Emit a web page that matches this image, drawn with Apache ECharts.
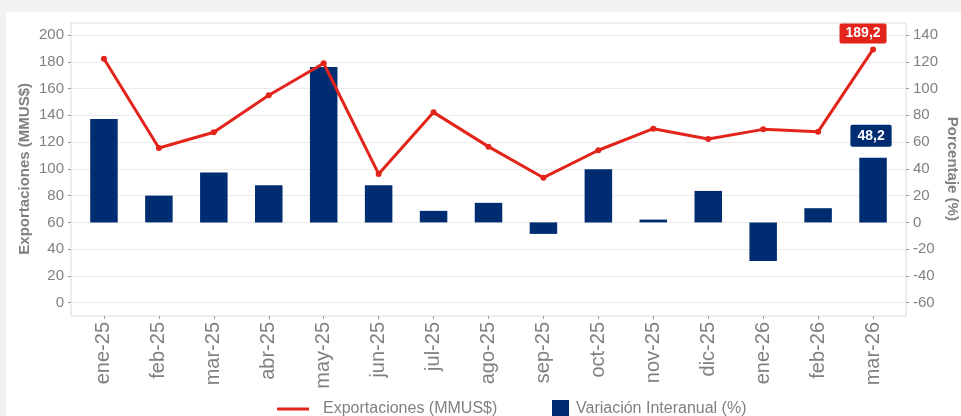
<!DOCTYPE html>
<html style="height: 100%;margin: 0;padding: 0;">
<head>
<meta charset="utf-8">
<title>Exportaciones</title>
<script src="https://cdn.jsdelivr.net/npm/echarts@6/dist/echarts.min.js"></script>
<style>
  body { margin: 0; background: #f2f2f2; }
  #card { position: absolute; left: 6px; top: 12px; right: 0; bottom: 0; background: #ffffff; }
  #main { position: absolute; left: 0; top: 0; width: 961px; height: 416px; }
</style>
</head>
<body>
<div id="card"></div>
<div id="main"></div>
<script type="text/javascript">
// meses
var meses = ['ene-25', 'feb-25', 'mar-25', 'abr-25', 'may-25', 'jun-25', 'jul-25', 'ago-25',
             'sep-25', 'oct-25', 'nov-25', 'dic-25', 'ene-26', 'feb-26', 'mar-26'];
// exportaciones en MMUS$ (eje izquierdo)
var exportaciones = [182.3, 115.6, 127.3, 155.0, 178.9, 96.2, 142.2, 116.6,
                     93.4, 113.9, 130.0, 122.3, 129.5, 127.8, 189.2];
// variacion interanual en % (eje derecho)
var variacion = [77.3, 20.0, 37.2, 27.8, 116.0, 27.8, 8.6, 14.6,
                 -8.6, 39.7, 2.1, 23.5, -28.8, 10.6, 48.2];

var rojo = '#e3241b';
var azul = '#002d72';
var gris = '#808080';

function coma(v) { return v.toFixed(1).replace('.', ','); }

var ultimo = meses.length - 1;
var posiciones = meses.map(function (m, i) { return i; });
var lineData = exportaciones.map(function (v, i) {
  var d = { value: [i, v] };
  if (i == ultimo) {
    d.label = {
      show: true, position: 'top', distance: 3, offset: [-10, 0],
      formatter: function (p) { return coma(p.value[1]); },
      color: '#fff', fontWeight: 'bold', fontSize: 14, fontFamily: 'Liberation Sans',
      backgroundColor: rojo, padding: [3, 6], borderRadius: 2
    };
  }
  return d;
});
var barData = variacion.map(function (v, i) {
  var d = { value: [i, v] };
  if (i == ultimo) {
    d.label = {
      show: true, position: 'top', distance: 11, offset: [-2, 0],
      formatter: function (p) { return coma(p.value[1]); },
      color: '#fff', fontWeight: 'bold', fontSize: 14, fontFamily: 'Liberation Sans',
      backgroundColor: azul, padding: [4, 7], borderRadius: 2
    };
  }
  return d;
});

var myChart = echarts.init(document.getElementById('main'));
var option = {
  animation: false,
  textStyle: { fontFamily: 'Liberation Sans' },
  grid: { left: 71, right: 55, top: 35, bottom: 113.3, containLabel: false, outerBoundsMode: 'none' },
  // borde del panel
  graphic: [{
    type: 'rect', z: -1, silent: true,
    shape: { x: 71, y: 23, width: 835, height: 293 },
    style: { fill: null, stroke: '#d9d9d9', lineWidth: 1 }
  }],
  legend: [{
    data: ['Exportaciones (MMUS$)'],
    left: 272, top: 396,
    icon: 'rect', itemWidth: 32, itemHeight: 3,
    textStyle: { color: gris, fontSize: 16, padding: [0, 0, 0, 9] }
  }, {
    data: ['Variación Interanual (%)'],
    left: 547, top: 395,
    icon: 'rect', itemWidth: 17, itemHeight: 18,
    textStyle: { color: gris, fontSize: 16, padding: [0, 0, 0, 2] }
  }],
  xAxis: {
    type: 'value', min: -0.6, max: 14.6, offset: 13.3,
    axisLine: { show: false, onZero: false },
    splitLine: { show: false },
    axisTick: { show: true, length: 3, customValues: posiciones,
                lineStyle: { color: '#999' } },
    axisLabel: {
      customValues: posiciones,
      formatter: function (v) { return meses[Math.round(v)]; },
      rotate: 90, margin: 6, color: gris, fontSize: 20
    }
  },
  yAxis: [{
    type: 'value', min: 0, max: 200, interval: 20, position: 'left',
    name: 'Exportaciones (MMUS$)', nameLocation: 'middle', nameGap: 39, nameMoveOverlap: false,
    nameTextStyle: { color: gris, fontWeight: 'bold', fontSize: 15 },
    axisLine: { show: false, onZero: false },
    axisTick: { show: true, length: 3, lineStyle: { color: '#999' } },
    axisLabel: { color: gris, fontSize: 15, margin: 7 },
    splitLine: { lineStyle: { color: '#ebebeb', width: 1 } }
  }, {
    type: 'value', min: -60, max: 140, interval: 20, position: 'right',
    name: 'Porcentaje (%)', nameLocation: 'middle', nameGap: 39, nameRotate: -90, nameMoveOverlap: false,
    nameTextStyle: { color: gris, fontWeight: 'bold', fontSize: 15 },
    axisLine: { show: false, onZero: false },
    axisTick: { show: true, length: 3, lineStyle: { color: '#999' } },
    axisLabel: { color: gris, fontSize: 15, margin: 7 },
    splitLine: { show: false }
  }],
  series: [{
    name: 'Variación Interanual (%)',
    type: 'bar', yAxisIndex: 1,
    barWidth: 27.5,
    itemStyle: { color: azul },
    data: barData
  }, {
    name: 'Exportaciones (MMUS$)',
    type: 'line', yAxisIndex: 0,
    symbol: 'circle', symbolSize: 6,
    lineStyle: { color: rojo, width: 3 },
    itemStyle: { color: rojo },
    data: lineData,
    z: 3
  }]
};
myChart.setOption(option);
</script>
</body>
</html>
